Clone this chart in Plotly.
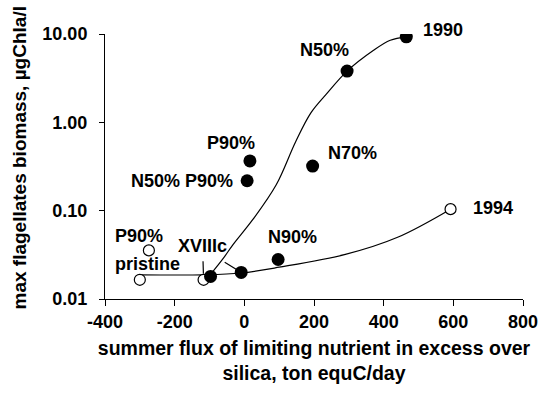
import math
import plotly.graph_objects as go

# --- data ---
filled_x = [465, 295, 16, 8, 196, 97, -9, -97]
filled_y = [9.3, 3.8, 0.366, 0.218, 0.32, 0.028, 0.020, 0.018]
open_x = [592, -274, -300, -117]
open_y = [0.104, 0.0355, 0.0165, 0.0165]

upper_curve_x = [-97, -60, -33, 24, 92, 147, 191, 236, 295, 370, 419, 465]
upper_curve_y = [0.019, 0.029, 0.041, 0.079, 0.198, 0.6, 1.28, 2.1, 3.8, 6.5, 8.5, 9.3]
lower_curve_x = [-300, -117, -9, 100, 290, 440, 592]
lower_curve_y = [0.0188, 0.0188, 0.0197, 0.0229, 0.032, 0.05, 0.104]

y_tickvals = [0.01, 0.1, 1, 10]
y_ticktext = ["0.01", "0.10", "1.00", "10.00"]
x_tickvals = [-400, -200, 0, 200, 400, 600, 800]
x_ticktext = ["-400", "-200", "0", "200", "400", "600", "800"]

# labels: (text, series, index, xanchor, xshift, yshift)
labels = [
    ("1990", "f", 0, "left", 15, 7),
    ("N50%", "f", 1, "center", -23, 21),
    ("P90%", "f", 2, "center", -19, 18),
    ("N50% P90%", "f", 3, "right", -12, 0),
    ("N70%", "f", 4, "left", 13, 13),
    ("N90%", "f", 5, "center", 14, 23),
    ("1994", "o", 0, "left", 20, 1),
    ("P90%", "o", 1, "center", -10, 14),
    ("pristine", "o", 2, "center", 8, 16),
]

FONT = "Arial, 'Liberation Sans', sans-serif"
LABEL_FONT = dict(family=FONT, size=18, color="black", weight="bold")

fig = go.Figure()
fig.add_trace(go.Scatter(x=upper_curve_x, y=upper_curve_y, mode="lines",
                         line=dict(color="black", width=1.2, shape="spline", smoothing=1),
                         hoverinfo="skip", showlegend=False))
fig.add_trace(go.Scatter(x=lower_curve_x, y=lower_curve_y, mode="lines",
                         line=dict(color="black", width=1.2, shape="spline", smoothing=1),
                         hoverinfo="skip", showlegend=False))
fig.add_trace(go.Scatter(x=open_x, y=open_y, mode="markers",
                         marker=dict(symbol="circle", size=11, color="white",
                                     line=dict(color="black", width=1.2)),
                         showlegend=False))
fig.add_trace(go.Scatter(x=filled_x, y=filled_y, mode="markers",
                         marker=dict(symbol="circle", size=13, color="black",
                                     line=dict(color="black", width=0)),
                         showlegend=False))

annotations = []
for text, s, i, anchor, xs, ys in labels:
    px = filled_x[i] if s == "f" else open_x[i]
    py = filled_y[i] if s == "f" else open_y[i]
    annotations.append(dict(x=px, y=math.log10(py), xref="x", yref="y", text=text,
                            showarrow=False, xanchor=anchor, yanchor="middle",
                            xshift=xs, yshift=ys, font=LABEL_FONT))

# XVIIIc label with its vertical leader line to the open circle
annotations.append(dict(x=open_x[3], y=math.log10(open_y[3]), xref="x", yref="y",
                        text="XVIIIc", font=LABEL_FONT, showarrow=True, arrowhead=0,
                        arrowwidth=1.2, arrowcolor="black", ax=-1, ay=-34,
                        standoff=6, startstandoff=4))
# diagonal leader line from the label to the filled point
annotations.append(dict(x=filled_x[6], y=math.log10(filled_y[6]), xref="x", yref="y",
                        text="", showarrow=True, arrowhead=0,
                        arrowwidth=1.2, arrowcolor="black", ax=-18, ay=-11, standoff=5))

# y axis title
annotations.append(dict(x=0, y=0.5, xref="paper", yref="paper",
                        text="max flagellates biomass, µgChla/l", textangle=-90,
                        showarrow=False, xanchor="center", yanchor="middle",
                        xshift=-86, yshift=8,
                        font=dict(family=FONT, size=19, color="black", weight="bold")))

fig.update_layout(
    width=550, height=398,
    margin=dict(l=105, r=18, t=34, b=99),
    paper_bgcolor="white", plot_bgcolor="white",
    font=dict(family=FONT, size=18, color="black", weight="bold"),
    annotations=annotations,
    xaxis=dict(range=[-400, 800], tickvals=x_tickvals, ticktext=x_ticktext,
               showgrid=False, zeroline=False,
               showline=True, linecolor="black", linewidth=1, ticks="outside", ticklen=6,
               tickcolor="black", tickfont=dict(family=FONT, size=18, weight="bold"),
               title=dict(text="summer flux of limiting nutrient in excess over<br>silica, ton equC/day",
                          font=dict(family=FONT, size=19.5, weight="bold"), standoff=10)),
    yaxis=dict(type="log", range=[-2, 1], tickvals=y_tickvals, ticktext=y_ticktext,
               showgrid=False, zeroline=False, showline=True, linecolor="black", linewidth=1,
               ticks="outside", ticklen=5, tickcolor="black", ticklabelstandoff=8,
               tickfont=dict(family=FONT, size=18, weight="bold")),
)

fig.write_html("out.html")
